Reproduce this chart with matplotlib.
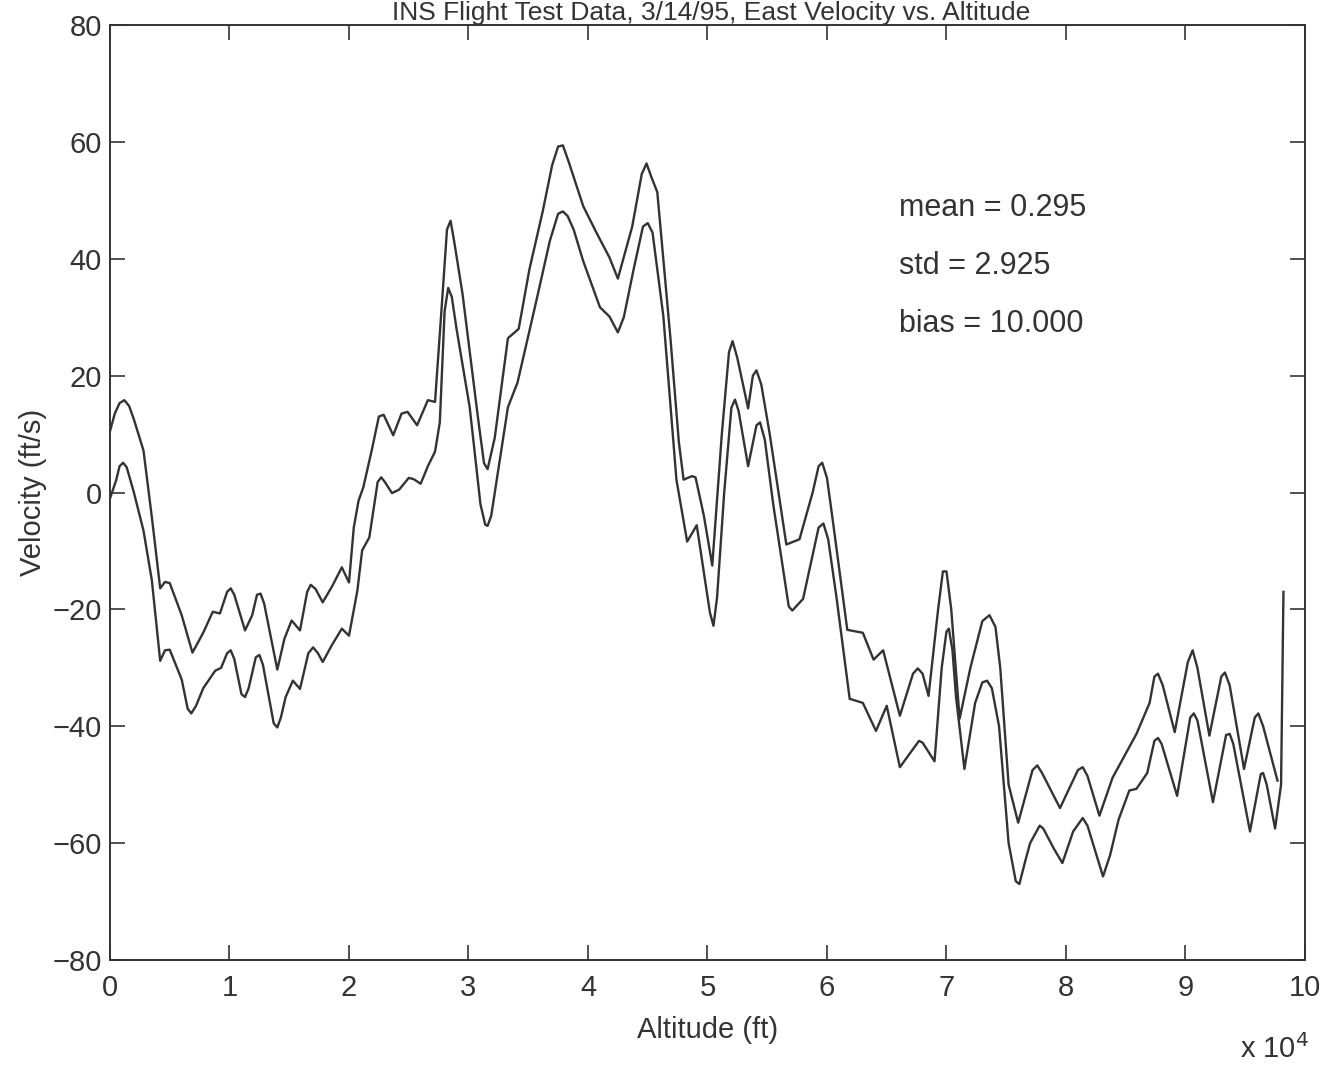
import matplotlib
matplotlib.use("Agg")
from matplotlib import pyplot as plt

plt.rcParams['font.family'] = ['Liberation Sans', 'DejaVu Sans']

# altitude in units of 10^4 ft, velocity in ft/s
upperAlt = [0.00, 0.04, 0.08, 0.12, 0.16, 0.20, 0.28, 0.35, 0.42, 0.46,
            0.50, 0.60, 0.69, 0.78, 0.86, 0.92, 0.98, 1.01, 1.04, 1.13,
            1.19, 1.23, 1.26, 1.29, 1.40, 1.46, 1.52, 1.59, 1.65, 1.68,
            1.72, 1.78, 1.86, 1.94, 2.00, 2.04, 2.08, 2.12, 2.19, 2.25,
            2.29, 2.37, 2.44, 2.49, 2.57, 2.66, 2.72, 2.78, 2.82, 2.85,
            2.88, 2.95, 3.08, 3.13, 3.16, 3.22, 3.33, 3.42, 3.51, 3.62,
            3.70, 3.75, 3.79, 3.84, 3.96, 4.07, 4.18, 4.25, 4.37, 4.45,
            4.49, 4.53, 4.58, 4.69, 4.76, 4.80, 4.87, 4.90, 4.97, 5.04,
            5.12, 5.18, 5.21, 5.25, 5.34, 5.38, 5.41, 5.45, 5.52, 5.66,
            5.77, 5.88, 5.93, 5.96, 6.00, 6.05, 6.17, 6.30, 6.39, 6.47,
            6.61, 6.72, 6.76, 6.80, 6.85, 6.93, 6.97, 7.00, 7.04, 7.11,
            7.20, 7.30, 7.36, 7.41, 7.45, 7.52, 7.60, 7.72, 7.76, 7.80,
            7.95, 8.10, 8.14, 8.18, 8.28, 8.39, 8.59, 8.70, 8.74, 8.77,
            8.81, 8.91, 9.02, 9.06, 9.10, 9.20, 9.30, 9.33, 9.37, 9.49,
            9.58, 9.61, 9.65, 9.77]
upperVel = [10.5, 13.5, 15.3, 15.8, 14.8, 12.5, 7.2, -4.2, -16.4, -15.3,
            -15.5, -21.0, -27.4, -24.0, -20.4, -20.7, -17.0, -16.4, -17.5, -23.6,
            -21.0, -17.5, -17.3, -19.0, -30.3, -25.0, -21.9, -23.6, -17.0, -15.8,
            -16.5, -18.8, -16.0, -12.8, -15.4, -6.0, -1.4, 0.9, 7.2, 13.0,
            13.3, 9.8, 13.5, 13.8, 11.5, 15.8, 15.5, 33.0, 45.0, 46.5,
            43.0, 34.0, 12.7, 5.0, 4.0, 9.4, 26.4, 28.0, 38.2, 48.0,
            56.0, 59.2, 59.4, 56.5, 49.0, 44.5, 40.2, 36.6, 45.5, 54.5,
            56.3, 54.0, 51.4, 26.4, 8.7, 2.2, 2.8, 2.6, -4.0, -12.5,
            10.0, 24.0, 25.9, 23.0, 14.4, 20.0, 20.9, 18.5, 10.1, -8.9,
            -8.0, 0.0, 4.5, 5.1, 2.5, -5.0, -23.5, -24.0, -28.6, -27.0,
            -38.2, -31.0, -30.1, -31.0, -34.8, -20.0, -13.5, -13.5, -20.0, -38.7,
            -30.0, -22.0, -21.0, -23.0, -30.0, -50.0, -56.5, -47.5, -46.7, -48.0,
            -54.0, -47.5, -47.0, -48.5, -55.3, -48.8, -41.3, -36.0, -31.5, -31.0,
            -33.0, -41.0, -29.0, -27.0, -30.0, -41.6, -31.5, -30.8, -33.0, -47.3,
            -38.5, -37.8, -40.0, -49.3]

lowerAlt = [0.00, 0.05, 0.08, 0.11, 0.14, 0.20, 0.28, 0.35, 0.42, 0.46,
            0.50, 0.60, 0.65, 0.68, 0.72, 0.78, 0.88, 0.93, 0.98, 1.01,
            1.04, 1.10, 1.13, 1.16, 1.22, 1.25, 1.28, 1.37, 1.40, 1.43,
            1.47, 1.53, 1.59, 1.66, 1.70, 1.74, 1.78, 1.86, 1.94, 2.00,
            2.07, 2.11, 2.17, 2.24, 2.27, 2.30, 2.36, 2.42, 2.50, 2.54,
            2.60, 2.66, 2.72, 2.76, 2.80, 2.83, 2.86, 2.90, 3.01, 3.10,
            3.14, 3.16, 3.19, 3.22, 3.33, 3.41, 3.57, 3.68, 3.75, 3.79,
            3.83, 3.88, 3.96, 4.10, 4.18, 4.25, 4.30, 4.38, 4.46, 4.50,
            4.54, 4.63, 4.74, 4.83, 4.91, 5.02, 5.05, 5.08, 5.14, 5.20,
            5.23, 5.26, 5.34, 5.41, 5.44, 5.48, 5.55, 5.68, 5.71, 5.80,
            5.93, 5.97, 6.01, 6.08, 6.19, 6.30, 6.41, 6.50, 6.61, 6.77,
            6.80, 6.90, 6.96, 7.00, 7.02, 7.05, 7.08, 7.15, 7.24, 7.30,
            7.34, 7.38, 7.44, 7.52, 7.58, 7.61, 7.66, 7.70, 7.78, 7.81,
            7.90, 7.97, 8.06, 8.14, 8.18, 8.31, 8.37, 8.44, 8.53, 8.59,
            8.68, 8.74, 8.77, 8.80, 8.93, 9.04, 9.07, 9.10, 9.23, 9.34,
            9.37, 9.40, 9.54, 9.63, 9.65, 9.68, 9.75, 9.80, 9.82]
lowerVel = [-1.0, 2.0, 4.5, 5.1, 4.3, 0.0, -6.5, -15.0, -28.8, -27.0,
            -26.9, -32.0, -37.0, -37.8, -36.5, -33.5, -30.5, -30.0, -27.5, -27.0,
            -28.5, -34.5, -35.0, -33.5, -28.2, -27.8, -29.5, -39.5, -40.2, -38.5,
            -35.0, -32.2, -33.6, -27.5, -26.5, -27.5, -29.0, -26.0, -23.3, -24.5,
            -16.8, -9.9, -7.7, 1.8, 2.6, 1.8, -0.1, 0.5, 2.5, 2.3,
            1.5, 4.5, 7.0, 12.0, 31.0, 35.0, 33.5, 28.0, 14.6, -2.0,
            -5.5, -5.7, -4.0, 0.0, 14.6, 18.8, 33.0, 43.0, 47.7, 48.1,
            47.3, 45.0, 39.6, 31.7, 30.1, 27.4, 30.0, 38.0, 45.5, 46.1,
            44.5, 30.3, 2.2, -8.4, -5.6, -20.5, -22.8, -18.0, 0.0, 14.5,
            15.9, 14.0, 4.5, 11.5, 12.0, 9.0, -2.0, -19.5, -20.2, -18.2,
            -6.0, -5.3, -8.0, -18.0, -35.3, -36.0, -40.8, -36.5, -47.0, -42.5,
            -42.8, -46.0, -30.0, -23.8, -23.3, -27.0, -35.0, -47.3, -36.0, -32.5,
            -32.2, -33.5, -40.0, -60.0, -66.5, -67.0, -63.0, -60.0, -57.0, -57.5,
            -61.0, -63.4, -58.0, -55.7, -57.0, -65.7, -62.0, -56.0, -51.0, -50.7,
            -48.0, -42.5, -42.0, -43.0, -51.9, -38.5, -37.8, -39.0, -53.0, -41.5,
            -41.3, -43.0, -58.0, -48.2, -48.0, -50.0, -57.5, -50.0, -17.0]

statLines = ["mean = 0.295", "std = 2.925", "bias = 10.000"]
statY = [48.6, 38.7, 28.9]

lineColor = "#333333"

fig = plt.figure(figsize=(13.35, 10.68), dpi=100)
ax = fig.add_axes([0.0824, 0.1011, 0.8951, 0.8755])

ax.plot(upperAlt, upperVel, color=lineColor, linewidth=1.7)
ax.plot(lowerAlt, lowerVel, color=lineColor, linewidth=1.7)

ax.set_xlim(0, 10)
ax.set_ylim(-80, 80)
ax.set_xticks(range(0, 11))
ax.set_yticks(range(-80, 81, 20))

ax.tick_params(direction='in', length=11, width=1.2, top=True, right=True,
               labelsize=21, colors=lineColor)
ax.tick_params(axis='x', pad=10)
ax.tick_params(axis='y', pad=6)
for spine in ax.spines.values():
    spine.set_linewidth(1.4)
    spine.set_color(lineColor)

ax.set_xlabel("Altitude (ft)", fontsize=21, color=lineColor, labelpad=10)
ax.set_ylabel("Velocity (ft/s)", fontsize=21, color=lineColor, labelpad=4)

for label, yv in zip(statLines, statY):
    ax.text(6.6, yv, label, fontsize=22, color=lineColor, va='center')

fig.text(0.955, 1 - 1058 / 1068, r"x 10$^{4}$", fontsize=21, color=lineColor,
         ha='center', va='baseline')
fig.text(0.533, 1 - 20 / 1068,
         "INS Flight Test Data, 3/14/95, East Velocity vs. Altitude",
         fontsize=19, color=lineColor, ha='center', va='baseline')

fig.savefig("out.png", dpi=100)
